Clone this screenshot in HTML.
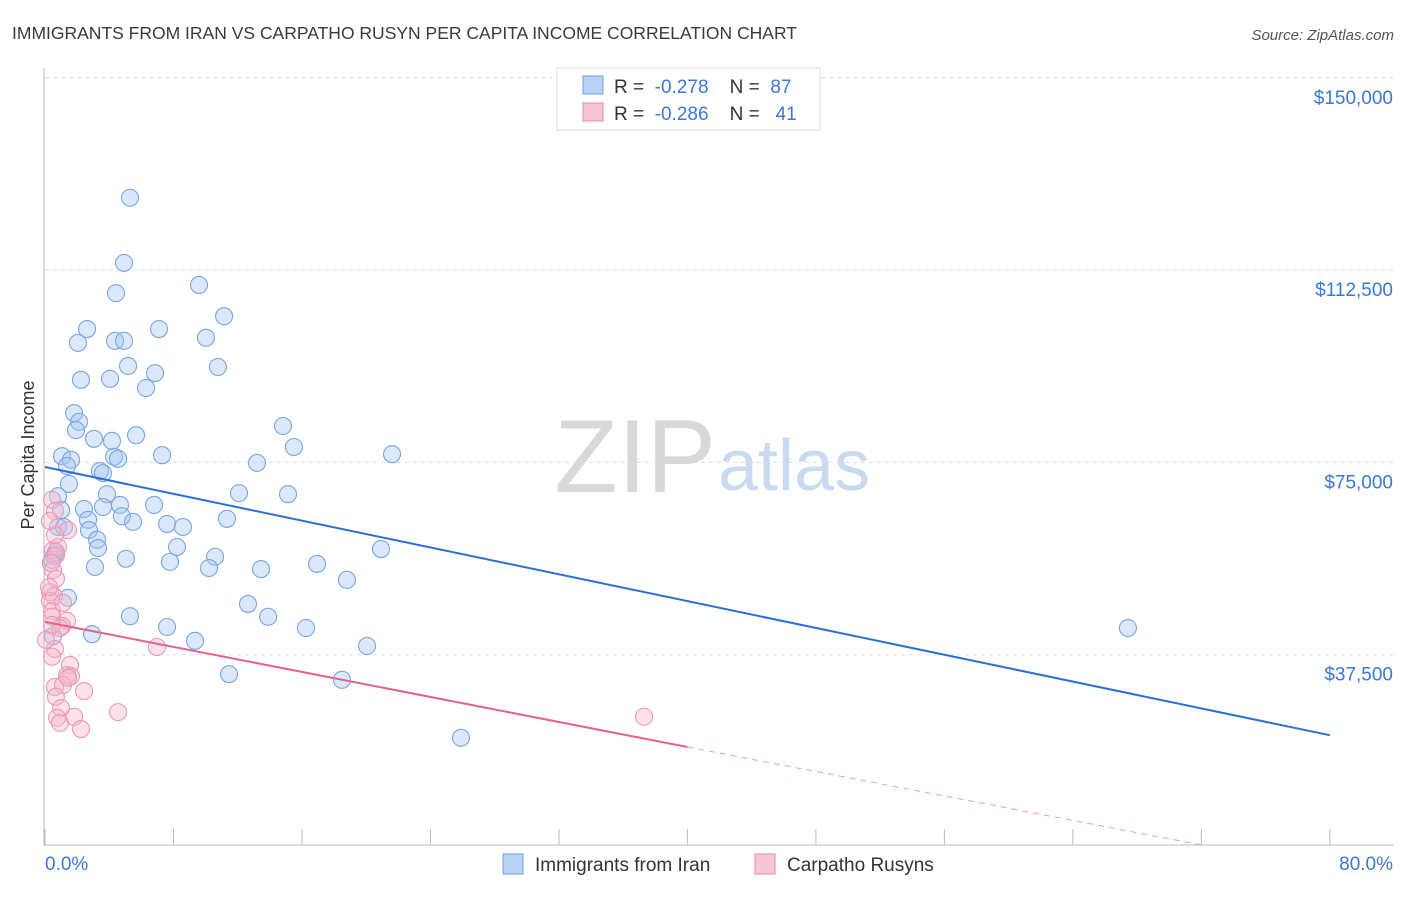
<!DOCTYPE html>
<html><head><meta charset="utf-8"><style>
body{margin:0;background:#fff;font-family:"Liberation Sans",sans-serif;}
svg text{font-family:"Liberation Sans",sans-serif;}
</style></head><body>
<svg id="chart" width="1406" height="892" xmlns="http://www.w3.org/2000/svg">
<text x="12" y="39" font-size="17.5" fill="#3a3a3a">IMMIGRANTS FROM IRAN VS CARPATHO RUSYN PER CAPITA INCOME CORRELATION CHART</text>
<text x="1394" y="40" font-size="15" fill="#555" font-style="italic" text-anchor="end">Source: ZipAtlas.com</text>
<text x="716" y="492" font-size="104" fill="#d8d8d8" text-anchor="end" font-family="Liberation Serif">ZIP</text>
<text x="718" y="490" font-size="72" fill="#c8daf0">atlas</text>
<g id="grid"></g>
<g id="axes"></g>
<g id="marks"></g>
<text transform="translate(34,455) rotate(-90)" font-size="18" fill="#333" text-anchor="middle">Per Capita Income</text>
<g>
<rect x="557" y="68" width="263" height="62" fill="#fff" stroke="#ddd"/>
<rect x="583" y="76" width="20" height="18" fill="#b8d2f4" stroke="#6fa0e0"/>
<text x="614" y="93" font-size="19" fill="#333" xml:space="preserve">R =  <tspan fill="#3a78d8">-0.278</tspan>    N =  <tspan fill="#3a78d8">87</tspan></text>
<rect x="583" y="103" width="20" height="18" fill="#f8c6d6" stroke="#e888a8"/>
<text x="614" y="120" font-size="19" fill="#333" xml:space="preserve">R =  <tspan fill="#3a78d8">-0.286</tspan>    N =   <tspan fill="#3a78d8">41</tspan></text>
</g>
<g>
<rect x="503" y="854" width="20" height="20" fill="#b8d2f4" stroke="#6fa0e0"/>
<text x="535" y="871" font-size="19" fill="#333">Immigrants from Iran</text>
<rect x="755" y="854" width="20" height="20" fill="#f8c6d6" stroke="#e888a8"/>
<text x="787" y="871" font-size="19" fill="#333">Carpatho Rusyns</text>
</g>
</svg>
<script>
const yTicks=[37500,75000,112500,150000];
const yTickLabels=["$37,500","$75,000","$112,500","$150,000"];
const xTicks=[0,8,16,24,32,40,48,56,64,72,80];
const blueX=[5.29,4.92,4.42,9.59,11.15,2.62,7.10,2.05,4.36,4.92,10.02,5.17,10.77,2.24,4.05,6.85,6.29,1.81,2.12,1.93,3.05,4.17,5.67,14.82,15.50,21.61,1.06,1.62,4.30,4.55,7.29,1.37,13.20,3.42,3.61,1.49,0.81,3.86,12.08,15.13,6.79,1.00,2.43,3.61,4.67,4.79,5.48,2.68,7.60,8.59,11.33,0.81,1.18,2.74,3.24,3.30,8.22,20.92,0.68,0.56,5.04,10.59,3.11,7.78,10.21,13.45,16.94,18.80,1.43,12.64,5.29,13.89,7.60,16.25,67.43,2.93,9.34,20.05,11.46,18.49,25.90,0.50,0.44];
const blueY=[126.6,113.9,108.0,109.6,103.5,101.0,101.0,98.3,98.7,98.7,99.3,93.8,93.6,91.1,91.3,92.4,89.5,84.6,82.9,81.3,79.6,79.2,80.3,82.1,78.0,76.6,76.2,75.5,76.1,75.7,76.4,74.3,74.9,73.3,72.9,70.8,68.4,68.8,69.0,68.8,66.7,65.7,65.9,66.3,66.7,64.5,63.4,63.8,63.0,62.4,64.0,62.4,62.4,61.8,59.9,58.3,58.5,58.1,57.5,56.7,56.2,56.6,54.6,55.6,54.4,54.2,55.2,52.1,48.6,47.4,45.0,44.9,42.9,42.7,42.7,41.5,40.2,39.2,33.7,32.6,21.3,41.1,56.0];
const pinkX=[0.44,0.62,1.43,0.50,0.81,0.68,0.50,0.68,0.31,0.56,0.31,0.44,1.12,1.37,0.44,1.06,0.62,0.44,1.56,1.37,1.62,0.62,1.12,2.43,0.68,1.00,4.55,1.81,0.75,0.93,2.24,6.97,37.30,0.25,0.37,0.93,0.62,0.31,1.43,0.06,0.44];
const pinkY=[67.7,65.5,61.8,57.9,58.5,56.9,54.0,52.3,49.7,48.9,48.0,46.0,47.6,44.1,44.9,43.1,38.6,37.1,35.5,33.5,33.3,31.2,31.6,30.4,29.3,27.1,26.3,25.4,25.2,24.2,23.0,39.0,25.4,50.7,55.4,42.7,60.8,63.6,33.0,40.4,43.3];
const blueTrend=[74.1,21.8];
const pinkTrend=[43.9,19.5];
const pinkTrendDashEnd=[72,0.4];
const NS="http://www.w3.org/2000/svg";
const X=v=>45+v*16.06;
const Y=v=>847-v*1000/195;
function mk(tag,attrs,parent){const e=document.createElementNS(NS,tag);for(const k in attrs)e.setAttribute(k,attrs[k]);document.getElementById(parent).appendChild(e);return e;}
let e;
e=mk('line',{x1:45,y1:Y(150),x2:1394,y2:Y(150),stroke:'#ddd','stroke-dasharray':'4,4'},'grid');
yTicks.forEach((t,i)=>{
 e=mk('line',{x1:45,y1:Y(t/1000),x2:1394,y2:Y(t/1000),stroke:'#ddd','stroke-dasharray':'4,4'},'grid');
 
 
 e=mk('text',{x:1393,y:Y(t/1000)+26,'font-size':19,fill:'#3a78d8','text-anchor':'end'},'axes');
 e.textContent=yTickLabels[i];
 
 
});
e=mk('line',{x1:44,y1:68,x2:44,y2:846,stroke:'#bbb'},'axes');


e=mk('line',{x1:44,y1:845,x2:1394,y2:845,stroke:'#bbb'},'axes');


xTicks.forEach(t=>{
 e=mk('line',{x1:X(t),y1:829,x2:X(t),y2:845,stroke:'#bbb'},'axes');
 
 
});
e=mk('text',{x:45,y:870,'font-size':19,fill:'#3a78d8'},'axes');e.textContent='0.0%';


e=mk('text',{x:1393,y:870,'font-size':19,fill:'#3a78d8','text-anchor':'end'},'axes');e.textContent='80.0%';


blueX.forEach((x,i)=>{
 e=mk('circle',{cx:X(x),cy:Y(blueY[i]),r:8.5,fill:'rgba(165,198,240,0.4)',stroke:'#78a6e2','stroke-width':1.1},'marks');
 
 
});
pinkX.forEach((x,i)=>{
 e=mk('circle',{cx:X(x),cy:Y(pinkY[i]),r:8.5,fill:'rgba(245,182,202,0.4)',stroke:'#ec98b6','stroke-width':1.1},'marks');
 
 
});
e=mk('line',{x1:X(0),y1:Y(blueTrend[0]),x2:X(80),y2:Y(blueTrend[1]),stroke:'#2a6fd6','stroke-width':2},'marks');


e=mk('line',{x1:X(0),y1:Y(pinkTrend[0]),x2:X(40),y2:Y(pinkTrend[1]),stroke:'#e8608c','stroke-width':2},'marks');


e=mk('line',{x1:X(40),y1:Y(pinkTrend[1]),x2:X(pinkTrendDashEnd[0]),y2:Y(pinkTrendDashEnd[1]),stroke:'#e8a0b8','stroke-width':1,'stroke-dasharray':'6,5'},'marks');


</script>
</body></html>
